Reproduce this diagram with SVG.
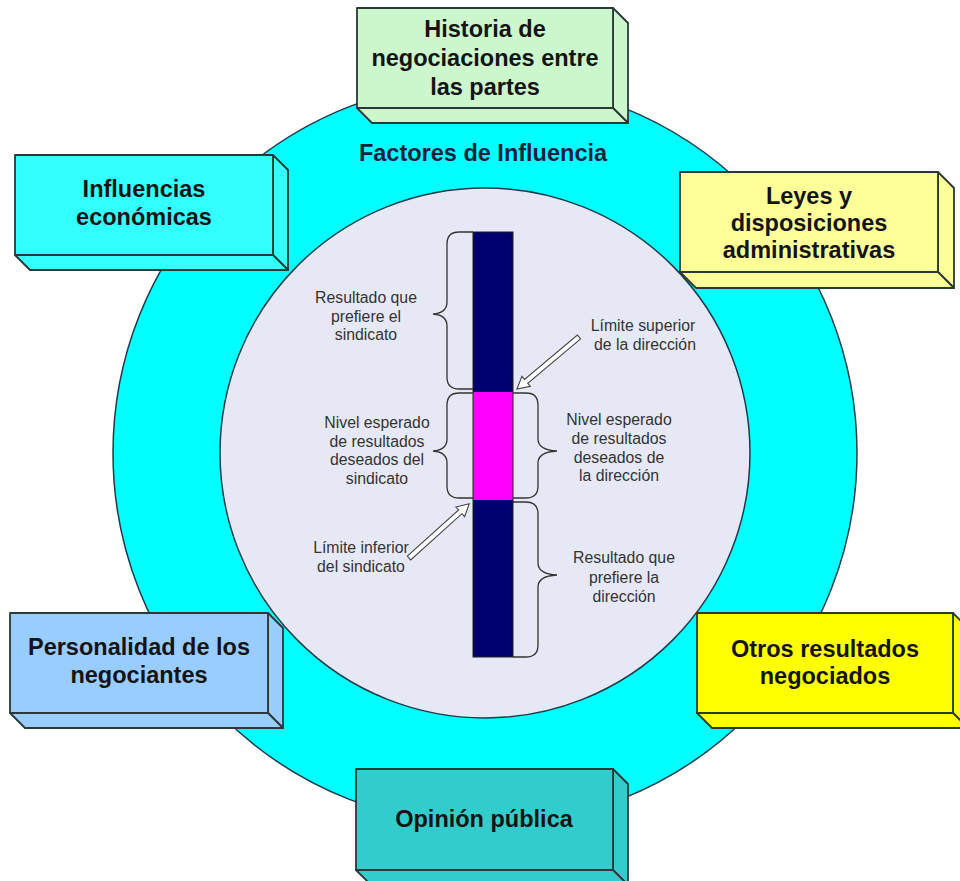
<svg xmlns="http://www.w3.org/2000/svg" width="960" height="881" viewBox="0 0 960 881">
<style>
.box{stroke:#2a3838;stroke-width:1.8;stroke-linejoin:round}
.bt{font-family:"Liberation Sans",Arial,sans-serif;font-weight:bold;font-size:23.5px;fill:#141414;text-anchor:middle}
.lt{font-family:"Liberation Sans",Arial,sans-serif;font-size:15.8px;fill:#333;text-anchor:middle}
.brace{fill:none;stroke:#333;stroke-width:1.3}
.arrow{fill:#fff;stroke:#444;stroke-width:1.1;stroke-linejoin:miter}
</style>
<rect width="960" height="881" fill="#fff"/>
<g id="rings">
<circle cx="485" cy="453" r="372" fill="#00ffff" stroke="#1d3b48" stroke-width="1.5"/>
<circle cx="485" cy="453" r="265" fill="#e6e9f5" stroke="#1d3b48" stroke-width="1.5"/>
</g>
<text x="483" y="161" font-family="'Liberation Sans',Arial,sans-serif" font-weight="bold" font-size="23.5px" fill="#15213f" text-anchor="middle">Factores de Influencia</text>
<g id="bar">
<rect x="473" y="232" width="40" height="160" fill="#000070"/>
<rect x="473" y="392" width="40" height="108" fill="#ff00ff"/>
<rect x="473" y="500" width="40" height="157" fill="#000070"/>
<rect x="473" y="232" width="40" height="425" fill="none" stroke="#222" stroke-width="1"/>
</g>
<g id="connectors">
<path class="brace" d="M473,232 L459,232 Q447,232 447,244 L447,302 Q447,313 433,314 Q447,315 447,326 L447,377 Q447,389 459,389 L473,389"/>
<path class="brace" d="M473,393 L459,393 Q447,393 447,405 L447,439 Q447,450 433,451 Q447,452 447,463 L447,486 Q447,498 459,498 L473,498"/>
<path class="brace" d="M513,393 L526,393 Q538,393 538,405 L538,439 Q538,450 557,451 Q538,452 538,463 L538,486 Q538,498 526,498 L513,498"/>
<path class="brace" d="M513,502 L526,502 Q538,502 538,514 L538,563 Q538,574 557,575 Q538,576 538,587 L538,645 Q538,657 526,657 L513,657"/>
<polygon class="arrow" transform="translate(579,337) rotate(140)" points="0,-2.5 69,-2.5 69,-6.5 81,0 69,6.5 69,2.5 0,2.5"/>
<polygon class="arrow" transform="translate(409,558) rotate(-42)" points="0,-2.5 69,-2.5 69,-6.5 81,0 69,6.5 69,2.5 0,2.5"/>
</g>
<g id="labels">
<text class="lt" x="366" y="303">Resultado que</text>
<text class="lt" x="366" y="321.5">prefiere el</text>
<text class="lt" x="366" y="340">sindicato</text>
<text class="lt" x="643" y="331">Límite superior</text>
<text class="lt" x="645" y="350">de la dirección</text>
<text class="lt" x="377" y="428">Nivel esperado</text>
<text class="lt" x="377" y="446.5">de resultados</text>
<text class="lt" x="377" y="465">deseados del</text>
<text class="lt" x="377" y="483.5">sindicato</text>
<text class="lt" x="619" y="425">Nivel esperado</text>
<text class="lt" x="619" y="444">de resultados</text>
<text class="lt" x="619" y="463">deseados de</text>
<text class="lt" x="619" y="481">la dirección</text>
<text class="lt" x="361" y="553">Límite inferior</text>
<text class="lt" x="361" y="572">del sindicato</text>
<text class="lt" x="624" y="563">Resultado que</text>
<text class="lt" x="624" y="583">prefiere la</text>
<text class="lt" x="624" y="602">dirección</text>
</g>
<g id="historia">
<polygon class="box" fill="#ccf7cc" points="613,8 628,23 628,123 613,108"/>
<polygon class="box" fill="#ccf7cc" points="357,108 613,108 628,123 372,123"/>
<rect class="box" fill="#ccf7cc" x="357" y="8" width="256" height="100"/>
<text class="bt" x="485" y="37">Historia de</text>
<text class="bt" x="485" y="66">negociaciones entre</text>
<text class="bt" x="485" y="95">las partes</text>
</g>
<g id="influencias">
<polygon class="box" fill="#33ffff" points="273,155 288,170 288,270 273,255"/>
<polygon class="box" fill="#33ffff" points="15,255 273,255 288,270 30,270"/>
<rect class="box" fill="#33ffff" x="15" y="155" width="258" height="100"/>
<text class="bt" x="144" y="197">Influencias</text>
<text class="bt" x="144" y="225">económicas</text>
</g>
<g id="leyes">
<polygon class="box" fill="#ffff99" points="938,172 954,188 954,288 938,272"/>
<polygon class="box" fill="#ffff99" points="680,272 938,272 954,288 696,288"/>
<rect class="box" fill="#ffff99" x="680" y="172" width="258" height="100"/>
<text class="bt" x="809" y="204">Leyes y</text>
<text class="bt" x="809" y="231">disposiciones</text>
<text class="bt" x="809" y="258">administrativas</text>
</g>
<g id="personalidad">
<polygon class="box" fill="#99ccff" points="268,613 283,628 283,728 268,713"/>
<polygon class="box" fill="#99ccff" points="10,713 268,713 283,728 25,728"/>
<rect class="box" fill="#99ccff" x="10" y="613" width="258" height="100"/>
<text class="bt" x="139" y="655">Personalidad de los</text>
<text class="bt" x="139" y="683">negociantes</text>
</g>
<g id="otros">
<polygon class="box" fill="#ffff00" points="953,613 968,628 968,728 953,713"/>
<polygon class="box" fill="#ffff00" points="697,713 953,713 968,728 712,728"/>
<rect class="box" fill="#ffff00" x="697" y="613" width="256" height="100"/>
<text class="bt" x="825" y="657">Otros resultados</text>
<text class="bt" x="825" y="684">negociados</text>
</g>
<g id="opinion">
<polygon class="box" fill="#33cccc" points="613,769 628,784 628,885 613,870"/>
<polygon class="box" fill="#33cccc" points="356,870 613,870 628,885 371,885"/>
<rect class="box" fill="#33cccc" x="356" y="769" width="257" height="101"/>
<text class="bt" x="484" y="827">Opinión pública</text>
</g>
</svg>
